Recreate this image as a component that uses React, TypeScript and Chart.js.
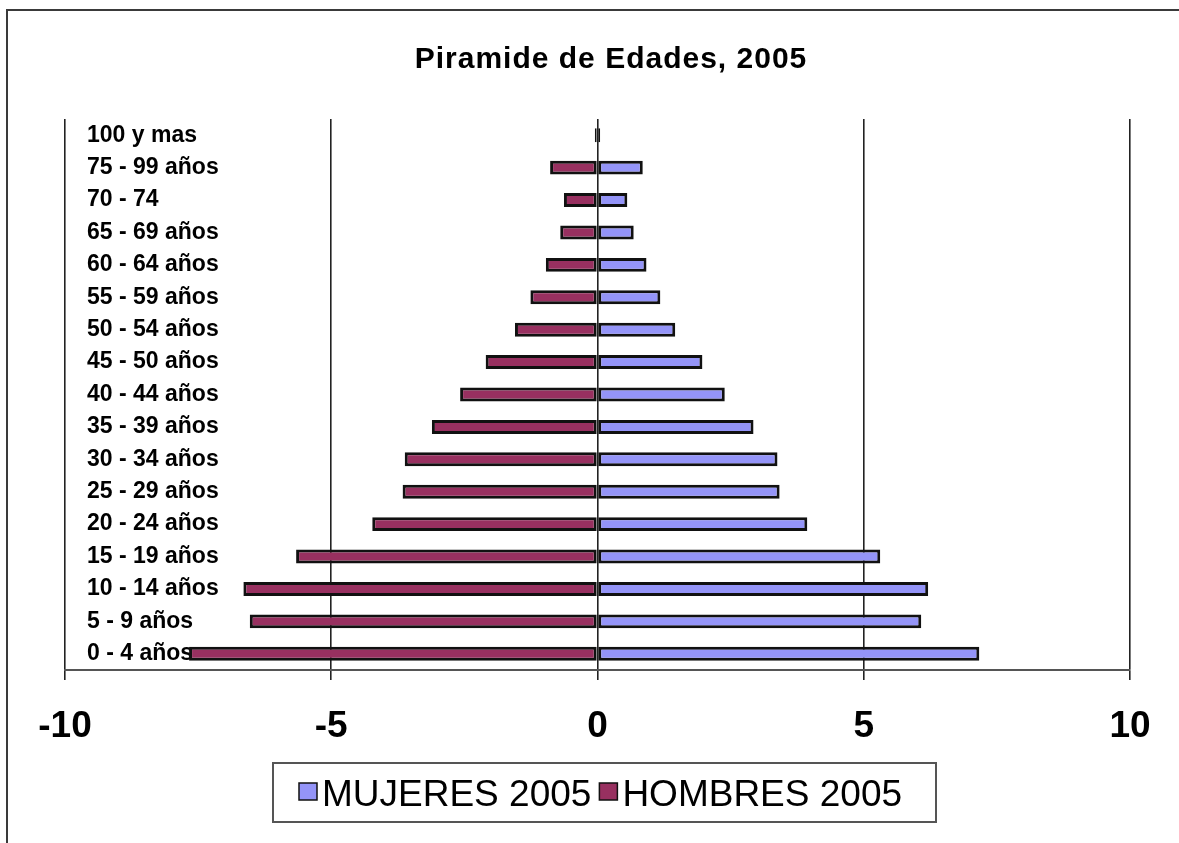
import React, { useEffect, useRef } from "react";
import { Chart, registerables } from "chart.js";

Chart.register(...registerables);

const TITLE = "Piramide de Edades, 2005";
const CATEGORIES = [
  "100 y mas",
  "75 - 99 años",
  "70 - 74",
  "65 - 69 años",
  "60 - 64 años",
  "55 - 59 años",
  "50 - 54 años",
  "45 - 50 años",
  "40 - 44 años",
  "35 - 39 años",
  "30 - 34 años",
  "25 - 29 años",
  "20 - 24 años",
  "15 - 19 años",
  "10 - 14 años",
  "5 - 9 años",
  "0 - 4 años",
];
const SERIES_NAMES = ["MUJERES 2005", "HOMBRES 2005"];
const MUJERES = [0.05, 0.85, 0.56, 0.68, 0.92, 1.18, 1.46, 1.97, 2.39, 2.93, 3.38, 3.42, 3.94, 5.31, 6.21, 6.08, 7.17];
const HOMBRES = [-0.05, -0.89, -0.63, -0.7, -0.97, -1.26, -1.55, -2.1, -2.58, -3.11, -3.62, -3.66, -4.23, -5.66, -6.65, -6.53, -7.67];
const X_TICKS = [-10, -5, 0, 5, 10];

const COLORS = ["#9494f8", "#983060"];
const FONT = "'Liberation Sans', Arial, sans-serif";

const decorPlugin = {
  id: "decor",
  afterDraw(chart: any) {
    const ctx: CanvasRenderingContext2D = chart.ctx;
    ctx.save();
    // outer frame (top + left)
    ctx.strokeStyle = "#3a3a3a";
    ctx.lineWidth = 2;
    ctx.beginPath();
    ctx.moveTo(7, chart.height);
    ctx.lineTo(7, 10);
    ctx.lineTo(chart.width, 10);
    ctx.stroke();

    // title
    ctx.font = `bold 30px ${FONT}`;
    (ctx as any).letterSpacing = "1px";
    ctx.fillStyle = "#000";
    ctx.textAlign = "center";
    ctx.textBaseline = "alphabetic";
    ctx.fillText(TITLE, 611, 68);
    (ctx as any).letterSpacing = "0px";

    // legend
    ctx.font = `37px ${FONT}`;
    const widths = SERIES_NAMES.map((t) => ctx.measureText(t).width);
    const sq = 18, gap = 5, itemGap = 8, padL = 26;
    const boxW = 663;
    const left = 604.5 - boxW / 2;
    const top = 763, h = 59;
    ctx.fillStyle = "#fff";
    ctx.fillRect(left, top, boxW, h);
    ctx.strokeStyle = "#555";
    ctx.lineWidth = 2;
    ctx.strokeRect(left, top, boxW, h);
    let x = left + padL;
    ctx.textAlign = "left";
    ctx.textBaseline = "alphabetic";
    SERIES_NAMES.forEach((name, i) => {
      ctx.fillStyle = COLORS[i];
      ctx.fillRect(x, 783, sq, 17);
      ctx.strokeStyle = "#111";
      ctx.lineWidth = 1.5;
      ctx.strokeRect(x, 783, sq, 17);
      ctx.fillStyle = "#000";
      ctx.fillText(name, x + sq + gap, 806);
      x += sq + gap + widths[i] + itemGap;
    });
    ctx.restore();
  },
};

export default function App() {
  const ref = useRef<HTMLCanvasElement | null>(null);

  useEffect(() => {
    document.body.style.margin = "0";
    document.body.style.overflow = "hidden";
    const canvas = ref.current!;
    const chart = new Chart(canvas, {
      type: "bar",
      data: {
        labels: CATEGORIES,
        datasets: [
          {
            label: SERIES_NAMES[0],
            data: MUJERES,
            backgroundColor: COLORS[0],
            borderColor: "#111",
            borderWidth: 3,
            borderSkipped: false,
            grouped: false,
            barPercentage: 0.43,
            categoryPercentage: 1,
          } as any,
          {
            label: SERIES_NAMES[1],
            data: HOMBRES,
            backgroundColor: COLORS[1],
            borderColor: "#111",
            borderWidth: 3,
            borderSkipped: false,
            grouped: false,
            barPercentage: 0.43,
            categoryPercentage: 1,
          } as any,
        ],
      },
      options: {
        indexAxis: "y",
        responsive: false,
        animation: false,
        devicePixelRatio: 1,
        layout: { padding: { left: 65, right: 49, top: 119, bottom: 93 } },
        plugins: {
          legend: { display: false },
          title: { display: false },
          tooltip: { enabled: false },
        },
        scales: {
          x: {
            type: "linear",
            min: -10,
            max: 10,
            afterBuildTicks: (s: any) => {
              s.ticks = X_TICKS.map((v) => ({ value: v }));
            },
            afterFit: (s: any) => {
              s.height = 80;
            },
            grid: {
              display: true,
              drawOnChartArea: true,
              drawTicks: true,
              tickLength: 10,
              color: "#222",
              lineWidth: 1.6,
            },
            border: { display: true, color: "#555", width: 2 },
            ticks: {
              color: "#000",
              padding: 25,
              font: { family: FONT, size: 37, weight: "bold" },
              maxRotation: 0,
              callback: (v: any) => String(v),
            },
          },
          y: {
            type: "category",
            afterFit: (s: any) => {
              s.width = 0;
            },
            grid: { display: false, drawTicks: false },
            border: { display: false },
            ticks: {
              mirror: true,
              padding: 22,
              color: "#000",
              font: { family: FONT, size: 23, weight: "bold" },
              autoSkip: false,
            },
          },
        },
      },
      plugins: [decorPlugin],
    });
    return () => chart.destroy();
  }, []);

  return (
    <canvas
      ref={ref}
      width={1179}
      height={843}
      style={{ display: "block", width: 1179, height: 843, background: "#fff" }}
    />
  );
}
